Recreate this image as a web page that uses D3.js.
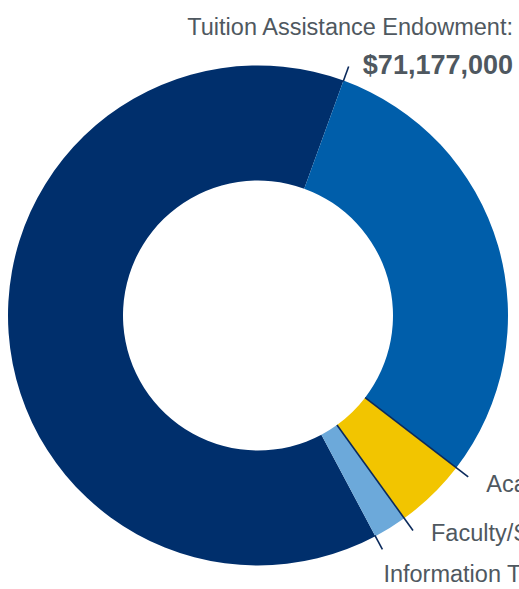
<!DOCTYPE html>
<html>
<head>
<meta charset="utf-8">
<script src="https://cdn.jsdelivr.net/npm/d3@7.9.0/dist/d3.min.js"></script>
<style>
  html, body { margin: 0; padding: 0; background: #fff; overflow: hidden; }
  text { font-family: "Liberation Sans", Arial, sans-serif; }
</style>
</head>
<body>
<div id="chart"></div>
<script>
// endowment categories, clockwise from the bottom boundary
const categories = ['Tuition Assistance Endowment:', 'Academic Endowment:', 'Faculty/Staff Endowment:', 'Information Technology Endowment:'];
const values = [71177000, 33560000, 5210000, 2435000];
const valueLabels = ['$71,177,000', '$33,560,000', '$5,210,000', '$2,435,000'];
const colors = ['#002f6c', '#005eaa', '#f2c500', '#6ca9da'];

const CONFIG = {
  WIDTH: 519,
  HEIGHT: 589,
  CX: 258,
  CY: 315.5,
  OUTER: 250,
  INNER: 135,
  START_DEG: 152,
  LEADER_END: 265,
  LINE_COLOR: '#0b2a5c',
  TEXT_COLOR: '#4f5860'
};

// where each leader line starts (inner edge or outer edge of the ring)
const leaderFrom = ['outer', 'inner', 'inner', 'outer'];

const svg = d3.select('#chart').append('svg')
  .attr('width', CONFIG.WIDTH)
  .attr('height', CONFIG.HEIGHT);

const g = svg.append('g')
  .attr('transform', `translate(${CONFIG.CX},${CONFIG.CY})`);

const rad = Math.PI / 180;
const pie = d3.pie()
  .sort(null)
  .value(d => d)
  .startAngle(CONFIG.START_DEG * rad)
  .endAngle(CONFIG.START_DEG * rad + 2 * Math.PI);

const arcs = pie(values);

const arc = d3.arc()
  .innerRadius(CONFIG.INNER)
  .outerRadius(CONFIG.OUTER);

g.selectAll('path.slice')
  .data(arcs)
  .join('path')
  .attr('class', 'slice')
  .attr('fill', (d, i) => colors[i])
  .attr('d', arc);

// leader lines sit on the clockwise end of each slice
const polar = (a, r) => [Math.sin(a) * r, -Math.cos(a) * r];

const ends = arcs.map((d, i) => {
  const r0 = leaderFrom[i] === 'inner' ? CONFIG.INNER : CONFIG.OUTER - 1;
  const p0 = polar(d.endAngle, r0);
  const p1 = polar(d.endAngle, CONFIG.LEADER_END);
  return { p0, p1 };
});

g.selectAll('line.leader')
  .data(ends)
  .join('line')
  .attr('class', 'leader')
  .attr('x1', d => d.p0[0]).attr('y1', d => d.p0[1])
  .attr('x2', d => d.p1[0]).attr('y2', d => d.p1[1])
  .attr('stroke', CONFIG.LINE_COLOR)
  .attr('stroke-width', 1.6);

// top label, right-aligned above the line end
const tipTop = ends[0].p1;
g.append('text')
  .attr('x', 255)
  .attr('y', tipTop[1] - 32)
  .attr('text-anchor', 'end')
  .attr('fill', CONFIG.TEXT_COLOR)
  .attr('font-size', 23.5)
  .text(categories[0]);

g.append('text')
  .attr('x', 255)
  .attr('y', tipTop[1] + 7)
  .attr('text-anchor', 'end')
  .attr('fill', CONFIG.TEXT_COLOR)
  .attr('font-size', 27)
  .attr('font-weight', 'bold')
  .text(valueLabels[0]);

// labels to the lower right run off the page edge, as in the source
const offsets = [null, [18, 15], [18, 11], [1, 33]];
[1, 2, 3].forEach(i => {
  const p = ends[i].p1;
  g.append('text')
    .attr('x', p[0] + offsets[i][0])
    .attr('y', p[1] + offsets[i][1])
    .attr('fill', CONFIG.TEXT_COLOR)
    .attr('font-size', 23.5)
    .text(categories[i]);
});
</script>
</body>
</html>
